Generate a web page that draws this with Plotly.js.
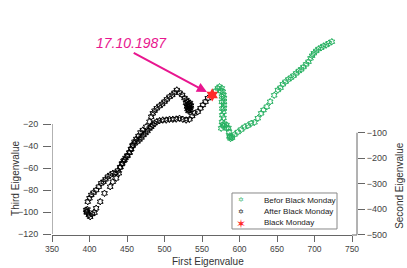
<!DOCTYPE html>
<html>
<head>
<meta charset="utf-8">
<script src="https://cdn.plot.ly/plotly-3.0.1.min.js"></script>
<style>html,body{margin:0;padding:0;background:#fff;}#chart{width:407px;height:268px;}</style>
</head>
<body>
<div id="chart"></div>
<script>
// First eigenvalue (x) and projected third eigenvalue (y)
const befX = [723.1,719.1,715.6,712,708.9,705.3,702.3,699.1,696.9,694.7,692,688.9,685.3,682.3,679.1,675.6,672,668.4,665.3,661.3,657.7,654.7,651.1,646.3,640.9,636.4,632,628.9,624.4,620,615.6,611.1,606.7,602.3,597.7,593.3,589.7,590,588,587,586.7,586,585.3,583,582.7,580,579,577.3,575.6,576.7,578.7,577,578.7,577,579.1,579.1,576.5,579.1,579.1,576.5,578.7,577.7,575,576.4,573.3,571.1,568];
const befY = [54.8,53.4,51.8,50.9,49.4,48.2,46.4,44.3,42.1,39.7,36.6,34.3,31.8,29.7,28.2,26.1,23.9,22.1,20.6,18.4,16.1,13,10.9,6.1,0.3,-4.3,-7.3,-10.3,-14.8,-18.5,-19.4,-21.4,-22.7,-25,-27.3,-29.6,-31.4,-32.5,-33.2,-32,-30.9,-27.3,-23.6,-24,-20.9,-20,-22,-20.9,-23.9,-18.2,-14.5,-12,-8.8,-6,-5.7,-2.7,0,0.3,3.4,5,6.4,9.4,10,12.4,13.9,12.4,10];
const aftX = [557.7,554.7,551.1,548,544.4,540,536.9,533.3,528.9,524.4,520,515.6,511.1,506.7,502.3,497.7,493.3,489.7,486.7,484.4,482.3,480,477.3,474.7,472,469.3,466.7,464,460,457.3,455.3,453.3,450.7,448,445.3,443.3,441.3,439.1,435.6,431.1,427.6,420,414.3,408.9,406.7,403.6,400.9,399.1,396.4,395.6,397.3,396.4,397.7,400,402.3,405.3,409,412.4,415.6,418.7,421.3,424.4,427.6,431.1,434.7,437.7,440.9,443.6,446.7,450.3,453.3,455.6,457.7,460,462.3,465.3,468,471.1,475.6,480,482.3,484.4,486.7,489.7,493.3,496.9,500,503.1,506.7,510.3,513.3,516.4,520,523.6,526.7,529.3,531.3,532.7,533.3,534,532.7,530.7,530,530.7,534,535.3,532,534.7,532,528.7];
const aftY = [3.4,0.3,-2.7,-5.7,-8.8,-10.3,-12.7,-15.7,-16.4,-15.7,-14.8,-15.5,-15.7,-15.7,-16.4,-16.4,-17,-17.9,-19.4,-20.9,-22.5,-24.1,-26.4,-28.2,-30,-32.3,-34.1,-35.9,-37.7,-40,-42.7,-45.9,-48.6,-50.9,-53.6,-56.4,-59.1,-64.8,-69.4,-72.5,-77,-83,-90.6,-96.6,-100.6,-101.8,-104.3,-102.7,-99.7,-98.2,-97.7,-100.5,-90.6,-87.5,-84.5,-82.4,-80,-77,-73.9,-72.5,-70.3,-67.9,-66.4,-64.8,-64.3,-62.4,-59.4,-55.7,-52.7,-49.1,-46.1,-43,-39.1,-36.1,-33.6,-30.9,-27.7,-25.5,-22.5,-17.9,-13.4,-10.3,-7.9,-5.7,-3.6,-1.8,0.3,2.4,4.8,6.4,8.5,10.9,8.5,6.4,3.6,1.8,0,-1.8,-3.6,-5.5,-7.3,-6.4,-4.1,-2.3,-0.9,-3.2,-5,-6.8,-8.2,-0.9];
const bmX = [563.6];
const bmY = [6.4];

const xTicks = [350,400,450,500,550,600,650,700,750];
const yTicks = [-120,-100,-80,-60,-40,-20];
const y2Ticks = [-500,-400,-300,-200,-100];
const names = ['Befor Black Monday','After Black Monday','Black Monday'];
const dateLabel = '17.10.1987';

const FONT = 'Liberation Sans, Arial, sans-serif';
const axisCol = '#666';
const green = '#25b060';
const black = '#000';
const red = '#ff2a2a';
const magenta = '#e8168f';
const y2Pos = 0.9776;

const traces = [
  {x: befX, y: befY, type: 'scatter', mode: 'markers', name: names[0],
   marker: {symbol: 'hexagram-open', size: 5, color: green, line: {width: 1, color: green}}},
  {x: aftX, y: aftY, type: 'scatter', mode: 'markers', name: names[1],
   marker: {symbol: 'hexagram-open', size: 5, color: black, line: {width: 1, color: black}}},
  {x: bmX, y: bmY, type: 'scatter', mode: 'markers', name: names[2],
   marker: {symbol: 'hexagram', size: 10, color: red, line: {width: 0}}},
  {x: [], y: [], yaxis: 'y2', type: 'scatter', mode: 'markers', showlegend: false}
];

// compact legend box (drawn as annotations inside a bordered rectangle)
const legBox = {x0: 0.5769, x1: 0.9135, y0: 0.0293, y1: 0.2049};
const legRows = [0.1683, 0.1122, 0.0610];
const legSymRows = [0.1683, 0.1146, 0.0537];
const legSymX = 0.6058, legTextX = 0.6763;
const legSyms = [{t: '\u2721', c: green, s: 7}, {t: '\u2721', c: black, s: 7}, {t: '\u2736', c: red, s: 12}];

const annotations = [
  {text: 'First Eigenvalue', xref: 'paper', yref: 'paper', x: 0.5, y: -0.127, xanchor: 'center', yanchor: 'middle',
   showarrow: false, font: {size: 10, color: '#333'}},
  {text: 'Third Eigenvalue', xref: 'paper', yref: 'paper', x: -0.119, y: 0.278, textangle: -90,
   xanchor: 'center', yanchor: 'middle', showarrow: false, font: {size: 10, color: '#333'}},
  {text: 'Second Eigenvalue', xref: 'paper', yref: 'paper', x: 1.115, y: 0.244, textangle: -90,
   xanchor: 'center', yanchor: 'middle', showarrow: false, font: {size: 10, color: '#333'}},
  {text: dateLabel, xref: 'paper', yref: 'paper', x: 0.2554, y: 0.938, xanchor: 'center', yanchor: 'middle',
   showarrow: false, font: {size: 14, color: magenta, style: 'italic'}},
  {text: '', xref: 'x', yref: 'y', x: bmX[0], y: bmY[0], showarrow: true, ax: -80, ay: -43,
   arrowhead: 2, arrowsize: 1, arrowwidth: 2, arrowcolor: magenta, standoff: 6}
];
names.forEach((n, i) => {
  annotations.push({text: legSyms[i].t, xref: 'paper', yref: 'paper', x: legSymX, y: legSymRows[i],
    xanchor: 'center', yanchor: 'middle', showarrow: false, borderpad: 0,
    font: {size: legSyms[i].s, color: legSyms[i].c, family: 'DejaVu Sans'}});
  annotations.push({text: n, xref: 'paper', yref: 'paper', x: legTextX, y: legRows[i],
    xanchor: 'left', yanchor: 'middle', showarrow: false, borderpad: 0,
    font: {size: 8, color: '#222'}});
});

const layout = {
  width: 407, height: 268,
  margin: {l: 52, r: 43, t: 30, b: 33},
  paper_bgcolor: '#fff', plot_bgcolor: 'rgba(0,0,0,0)',
  font: {family: FONT, color: '#444'},
  showlegend: false,
  xaxis: {domain: [0, 300/312], range: [350, 750], tickvals: xTicks, ticks: 'outside', ticklen: 6,
          tickcolor: axisCol, showline: true, linecolor: axisCol, showgrid: false, zeroline: false,
          tickfont: {size: 8.5, color: '#444'}},
  yaxis: {range: [-120.91, 65.45], tickvals: yTicks, ticks: 'outside', ticklen: 8, tickcolor: axisCol,
          showline: false, showgrid: false, zeroline: false, tickfont: {size: 9, color: '#444'},
          ticklabelstandoff: 3},
  yaxis2: {overlaying: 'y', side: 'right', anchor: 'free', position: y2Pos, range: [-501, 302.9],
           tickvals: y2Ticks, ticks: 'outside', ticklen: 7, tickcolor: axisCol, showline: false,
           showgrid: false, zeroline: false, tickfont: {size: 9, color: '#444'}},
  shapes: [
    {type: 'line', xref: 'x', yref: 'y', x0: xTicks[0], x1: xTicks[0], y0: yTicks[0], y1: yTicks[yTicks.length-1],
     line: {color: axisCol, width: 1}},
    {type: 'line', xref: 'paper', yref: 'y2', x0: y2Pos, x1: y2Pos, y0: y2Ticks[0], y1: y2Ticks[y2Ticks.length-1],
     line: {color: axisCol, width: 1}},
    {type: 'line', xref: 'paper', yref: 'paper', x0: 300/312, x1: y2Pos, y0: 0, y1: 0,
     line: {color: axisCol, width: 1}},
    {type: 'rect', xref: 'paper', yref: 'paper', x0: legBox.x0, x1: legBox.x1, y0: legBox.y0, y1: legBox.y1,
     line: {color: '#888', width: 1}, fillcolor: '#fff', layer: 'above'}
  ],
  annotations: annotations
};

Plotly.newPlot('chart', traces, layout, {staticPlot: true, displayModeBar: false});
</script>
</body>
</html>
